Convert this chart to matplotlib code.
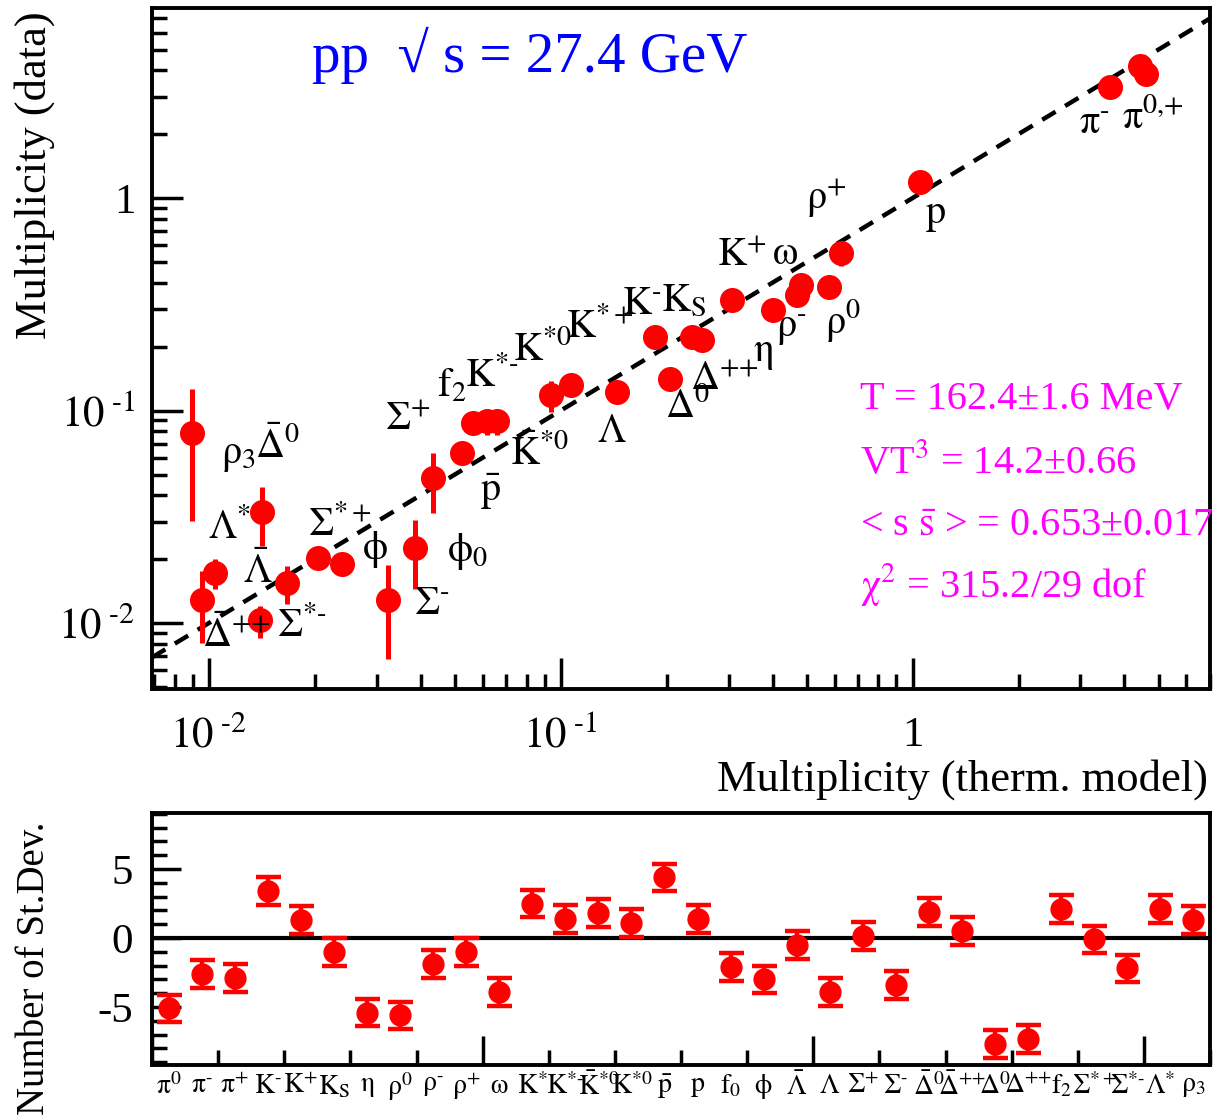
import numpy as np
import matplotlib
matplotlib.use("Agg")
import matplotlib.pyplot as plt
from matplotlib.ticker import LogLocator, FixedLocator, MultipleLocator, NullFormatter, FuncFormatter
import matplotlib.transforms as mtransforms

plt.rcParams['font.family'] = ['Liberation Serif', 'DejaVu Serif']
plt.rcParams['mathtext.fontset'] = 'stix'
plt.rcParams['axes.unicode_minus'] = False

M = r"\text{-}"    # short hyphen-like minus used in the labels
PP = r"\text{++}"  # compact double plus

# ---------------- data ----------------
particles = [r"$\mathrm{\pi}^{0}$", r"$\mathrm{\pi}^{%s}$" % M, r"$\mathrm{\pi}^{+}$",
             r"$\mathrm{K}^{%s}$" % M, r"$\mathrm{K}^{+}$", r"$\mathrm{K_{S}}$",
             r"$\mathrm{\eta}$", r"$\mathrm{\rho}^{0}$", r"$\mathrm{\rho}^{%s}$" % M,
             r"$\mathrm{\rho}^{+}$", r"$\mathrm{\omega}$", r"$\mathrm{K}^{*}$",
             r"$\mathrm{K}^{*%s}$" % M, r"$\bar{\mathrm{K}}^{*0}$", r"$\mathrm{K}^{*0}$",
             r"$\bar{\mathrm{p}}$", r"$\mathrm{p}$", r"$\mathrm{f}_{0}$",
             r"$\mathrm{\phi}$", r"$\bar{\Lambda}$", r"$\Lambda$",
             r"$\Sigma^{+}$", r"$\Sigma^{%s}$" % M, r"$\bar{\Delta}^{0}$",
             r"$\bar{\Delta}^{%s}$" % PP, r"$\Delta^{0}$", r"$\Delta^{%s}$" % PP,
             r"$\mathrm{f}_{2}$", r"$\Sigma^{*+}$", r"$\Sigma^{*%s}$" % M,
             r"$\Lambda^{*}$", r"$\mathrm{\rho}_{3}$"]

# thermal-model multiplicity (x) in the same order
model = [4.62, 3.63, 4.42, 0.185, 0.306, 0.236, 0.400, 0.580, 0.468, 0.628, 0.481,
         0.107, 0.0616, 0.0658, 0.094, 0.0524, 1.05, 0.0385, 0.0239, 0.0167, 0.145,
         0.0433, 0.0323, 0.01415, 0.00955, 0.204, 0.252, 0.0562, 0.0204, 0.01396,
         0.0104, 0.00895]
# measured multiplicity (y)
data = [3.83, 3.33, 4.18, 0.222, 0.331, 0.222, 0.297, 0.381, 0.350, 0.551, 0.390,
        0.132, 0.0890, 0.0890, 0.118, 0.0630, 1.19, 0.0225, 0.0190, 0.0154, 0.122,
        0.0480, 0.0128, 0.0333, 0.0128, 0.141, 0.215, 0.0875, 0.0202, 0.0103,
        0.0172, 0.0784]
data_err = [0.10, 0.10, 0.10, 0.010, 0.020, 0.015, 0.020, 0.035, 0.040, 0.070, 0.020,
            0.010, 0.012, 0.012, 0.020, 0.003, 0.06, 0.008, 0.0015, 0.0031, 0.006,
            0.015, 0.006, 0.0103, 0.0047, 0.008, 0.005, 0.008, 0.0015, 0.0018,
            0.0028, 0.048]
# deviation in number of standard deviations
deviation = [-5.1, -2.6, -2.9, 3.4, 1.3, -1.0, -5.4, -5.6, -1.9, -1.0, -3.9,
             2.5, 1.4, 1.8, 1.1, 4.4, 1.4, -2.1, -3.0, -0.5, -3.9,
             0.15, -3.4, 1.9, 0.5, -7.7, -7.3, 2.1, -0.1, -2.2,
             2.1, 1.3]
dev_err = 1.0

W, H = 1213, 1119
fig = plt.figure(figsize=(W / 100, H / 100), dpi=100)
ax = fig.add_axes([152 / W, 1 - 689 / H, 1058 / W, 681 / H])
ax2 = fig.add_axes([152 / W, 1 - 1065 / H, 1058 / W, 252 / H])

RED = '#ff0000'

# ---------------- top panel ----------------
ax.set_xscale('log')
ax.set_yscale('log')
ax.set_xlim(0.0069, 7.0)
ax.set_ylim(0.0049, 7.84)
xl = np.array(ax.get_xlim())
ax.plot(xl, xl, color='black', lw=3.2, ls=(0, (3.5, 2.5)), zorder=2)
ax.errorbar(model, data, yerr=data_err, fmt='o', color=RED, ms=17,
            elinewidth=3.6, capsize=0, zorder=3)

def logfmt(v, pos):
    if abs(v - 1) < 1e-9:
        return "1"
    e = int(round(np.log10(v)))
    return r"$10^{\ \text{%d}}$" % e

for a in (ax.xaxis, ax.yaxis):
    a.set_major_locator(LogLocator(base=10, numticks=20))
    a.set_minor_locator(LogLocator(base=10, subs=np.arange(2, 10), numticks=50))
    a.set_major_formatter(FuncFormatter(logfmt))
    a.set_minor_formatter(NullFormatter())
ax.tick_params(which='major', direction='in', length=22, width=2.5, labelsize=31)
ax.tick_params(which='minor', direction='in', length=11, width=2.5)
ax.tick_params(axis='x', which='major', pad=20)
ax.tick_params(axis='y', which='major', pad=12)
for s in ax.spines.values():
    s.set_linewidth(2.8)

def frac(px, py):
    return ((px - 152) / 1058, (689 - py) / 681)

top_labels = [
    (r"$\mathrm{\pi}^{\text{0,+}}$", 1153, 118), (r"$\mathrm{\pi}^{%s}$" % M, 1094, 124),
    (r"$\mathrm{p}$", 935, 215), (r"$\mathrm{\rho}^{+}$", 826, 198),
    (r"$\mathrm{K}^{+}$", 742, 256), (r"$\mathrm{\omega}$", 785, 254),
    (r"$\mathrm{\rho}^{0}$", 843, 320), (r"$\mathrm{\rho}^{%s}$" % M, 791, 330),
    (r"$\mathrm{\eta}$", 763, 354), (r"$\Delta^{%s}$" % PP, 724, 381),
    (r"$\Delta^{0}$", 688, 407), (r"$\mathrm{K_{S}}$", 684, 302),
    (r"$\mathrm{K}^{%s}$" % M, 642, 305), (r"$\mathrm{K}^{*+}$", 600, 327),
    (r"$\mathrm{K}^{*0}$", 543, 350), (r"$\mathrm{K}^{*%s}$" % M, 492, 376),
    (r"$\mathrm{f}_{2}$", 452, 387), (r"$\Lambda$", 612, 432),
    (r"$\bar{\mathrm{K}}^{*0}$", 540, 455), (r"$\bar{\mathrm{p}}$", 490, 492),
    (r"$\Sigma^{+}$", 408, 420), (r"$\mathrm{\phi}_{0}$", 468, 552),
    (r"$\mathrm{\phi}$", 375, 550), (r"$\Sigma^{%s}$" % M, 432, 605),
    (r"$\Sigma^{*+}$", 340, 525), (r"$\Sigma^{*%s}$" % M, 302, 626),
    (r"$\bar{\Lambda}$", 258, 572), (r"$\Lambda^{*}$", 230, 528),
    (r"$\mathrm{\rho}_{3}$", 238, 455), (r"$\bar{\Delta}^{0}$", 278, 447),
    (r"$\bar{\Delta}^{%s}$" % PP, 236, 636),
]
for txt, px, py in top_labels:
    fx, fy = frac(px, py)
    ax.text(fx, fy, txt, transform=ax.transAxes, ha='center', va='center',
            fontsize=29, color='black', zorder=4)

fx, fy = frac(312, 55)
ax.text(fx, fy, "pp  √ s = 27.4 GeV", transform=ax.transAxes, ha='left',
        va='center', fontsize=41, color='#0000ff')

stats = ["T = 162.4±1.6 MeV", r"VT$^{3}$ = 14.2±0.66",
         r"< s $\bar{\mathrm{s}}$ > = 0.653±0.017",
         r"$\mathrm{\chi}^{2}$ = 315.2/29 dof"]
for txt, py in zip(stats, [400, 463, 527, 585]):
    fx, fy = frac(860, py)
    ax.text(fx, fy, txt, transform=ax.transAxes, ha='left', va='center',
            fontsize=29, color='#ff00ff')

fig.text(35 / W, 1 - 175 / H, "Multiplicity (data)", rotation=90, ha='center',
         va='center', fontsize=32)
fig.text(1208 / W, 1 - 780 / H, "Multiplicity (therm. model)", ha='right',
         va='center', fontsize=32)

# ---------------- bottom panel ----------------
idx = np.arange(len(deviation)) + 0.5
ax2.set_xlim(0, len(deviation))
ax2.set_ylim(-9.2, 9.06)
ax2.axhline(0, color='black', lw=3)
ax2.errorbar(idx, deviation, yerr=dev_err, fmt='o', color=RED, ms=15,
             elinewidth=3.2, capsize=9, capthick=3.2, zorder=3)
ax2.xaxis.set_major_locator(MultipleLocator(10))
ax2.xaxis.set_minor_locator(MultipleLocator(2))
ax2.xaxis.set_major_formatter(NullFormatter())
ax2.yaxis.set_major_locator(FixedLocator([-5, 0, 5]))
ax2.yaxis.set_minor_locator(MultipleLocator(1))
ax2.tick_params(which='major', direction='in', length=21, width=2.5, labelsize=31)
ax2.tick_params(which='minor', direction='in', length=11, width=2.5)
ax2.tick_params(axis='y', which='major', pad=14)
for s in ax2.spines.values():
    s.set_linewidth(2.8)

trans = mtransforms.blended_transform_factory(ax2.transData, ax2.transAxes)
for xi, lab in zip(idx, particles):
    ax2.text(xi, -0.085, lab, transform=trans, ha='center', va='center',
             fontsize=20)

fig.text(35 / W, 1 - 968 / H, "Number of St.Dev.", rotation=90, ha='center',
         va='center', fontsize=28)

fig.savefig("out.png", dpi=100)
